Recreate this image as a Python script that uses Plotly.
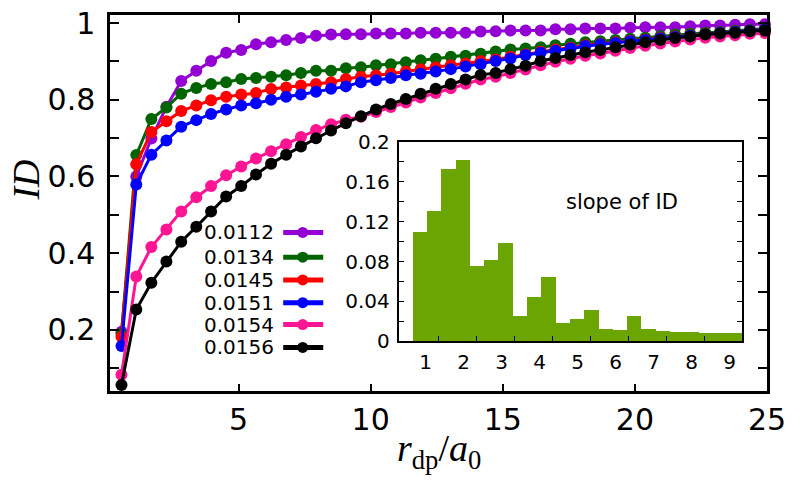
import plotly.graph_objects as go

# ---------------- data ----------------
r_dp = [0.57, 1.13, 1.70, 2.27, 2.83, 3.40, 3.96, 4.53, 5.10, 5.66, 6.23, 6.80, 7.36, 7.93,
        8.50, 9.06, 9.63, 10.20, 10.76, 11.33, 11.89, 12.46, 13.03, 13.59, 14.16, 14.73,
        15.29, 15.86, 16.43, 16.99, 17.56, 18.12, 18.69, 19.26, 19.82, 20.39, 20.96, 21.52,
        22.09, 22.66, 23.22, 23.79, 24.35, 24.92]

series_names = ["0.0112", "0.0134", "0.0145", "0.0151", "0.0154", "0.0156"]
series_colors = ["#9400D3", "#006400", "#FF0000", "#0000FF", "#FF1493", "#000000"]

id_0112 = [0.195, 0.600, 0.699, 0.782, 0.849, 0.876, 0.901, 0.923, 0.930, 0.945, 0.950, 0.956,
           0.961, 0.967, 0.970, 0.971, 0.971, 0.973, 0.973, 0.973, 0.975, 0.975, 0.975, 0.975,
           0.978, 0.979, 0.981, 0.981, 0.981, 0.984, 0.984, 0.986, 0.986, 0.986, 0.988, 0.989,
           0.989, 0.989, 0.992, 0.994, 0.994, 0.996, 0.997, 0.997]
id_0134 = [0.190, 0.656, 0.750, 0.780, 0.816, 0.831, 0.841, 0.846, 0.854, 0.857, 0.860, 0.864,
           0.870, 0.876, 0.876, 0.882, 0.885, 0.890, 0.893, 0.898, 0.903, 0.907, 0.912, 0.915,
           0.920, 0.926, 0.931, 0.934, 0.937, 0.942, 0.946, 0.950, 0.953, 0.956, 0.959, 0.962,
           0.966, 0.970, 0.972, 0.975, 0.977, 0.980, 0.982, 0.986]
id_0145 = [0.182, 0.632, 0.716, 0.744, 0.771, 0.785, 0.799, 0.808, 0.814, 0.818, 0.828, 0.832,
           0.837, 0.841, 0.846, 0.854, 0.860, 0.864, 0.868, 0.874, 0.880, 0.885, 0.890, 0.895,
           0.901, 0.905, 0.912, 0.919, 0.925, 0.931, 0.936, 0.942, 0.946, 0.950, 0.954, 0.957,
           0.961, 0.965, 0.968, 0.971, 0.974, 0.977, 0.980, 0.983]
id_0151 = [0.158, 0.579, 0.657, 0.694, 0.730, 0.747, 0.763, 0.775, 0.785, 0.791, 0.800, 0.808,
           0.814, 0.821, 0.829, 0.835, 0.846, 0.851, 0.857, 0.864, 0.868, 0.874, 0.880, 0.887,
           0.893, 0.901, 0.908, 0.917, 0.923, 0.928, 0.934, 0.940, 0.945, 0.948, 0.953, 0.956,
           0.960, 0.964, 0.967, 0.970, 0.974, 0.977, 0.980, 0.983]
id_0154 = [0.083, 0.339, 0.416, 0.462, 0.509, 0.546, 0.575, 0.603, 0.626, 0.647, 0.666, 0.684,
           0.703, 0.721, 0.736, 0.748, 0.756, 0.768, 0.781, 0.793, 0.806, 0.818, 0.830, 0.842,
           0.853, 0.860, 0.870, 0.879, 0.890, 0.899, 0.907, 0.915, 0.921, 0.928, 0.935, 0.941,
           0.947, 0.952, 0.957, 0.962, 0.965, 0.968, 0.972, 0.974]
id_0156 = [0.056, 0.253, 0.323, 0.378, 0.430, 0.469, 0.509, 0.548, 0.575, 0.605, 0.633, 0.657,
           0.678, 0.700, 0.720, 0.739, 0.757, 0.775, 0.789, 0.802, 0.816, 0.829, 0.841, 0.853,
           0.865, 0.870, 0.880, 0.889, 0.901, 0.909, 0.917, 0.924, 0.930, 0.937, 0.944, 0.950,
           0.956, 0.961, 0.965, 0.970, 0.973, 0.975, 0.979, 0.981]
series_values = [id_0112, id_0134, id_0145, id_0151, id_0154, id_0156]

main_yticks = [0.1, 0.2, 0.3, 0.4, 0.5, 0.6, 0.7, 0.8, 0.9, 1.0]
main_yticklabels = ["", "0.2", "", "0.4", "", "0.6", "", "0.8", "", "1"]
main_xticks = [5, 10, 15, 20, 25]

# inset histogram: slope of ID
slope_x = [0.837, 1.214, 1.590, 1.967, 2.343, 2.720, 3.097, 3.473, 3.850, 4.226, 4.603, 4.980,
           5.356, 5.733, 6.109, 6.486, 6.863, 7.239, 7.616, 7.992, 8.369, 8.746, 9.122]
slope_y = [0.110, 0.131, 0.173, 0.182, 0.076, 0.082, 0.099, 0.026, 0.045, 0.065, 0.019, 0.023,
           0.032, 0.013, 0.012, 0.026, 0.013, 0.011, 0.010, 0.010, 0.009, 0.009, 0.009]
inset_xticks = [1, 2, 3, 4, 5, 6, 7, 8, 9]
inset_xminor = [1.345, 2.345, 3.345, 4.345, 5.345, 6.345, 7.345, 8.345]
inset_yticks = [0, 0.02, 0.04, 0.06, 0.08, 0.10, 0.12, 0.14, 0.16, 0.18, 0.20]
inset_yticklabels = ["0", "", "0.04", "", "0.08", "", "0.12", "", "0.16", "", "0.2"]

# ---------------- figure ----------------
W, H = 810, 481
fig = go.Figure()

for name, col, vals in zip(series_names, series_colors, series_values):
    fig.add_trace(go.Scatter(
        x=r_dp, y=vals, mode="lines+markers", name=name,
        line=dict(color=col, width=3),
        marker=dict(color=col, size=12, line=dict(width=0)),
        cliponaxis=False, showlegend=False, xaxis="x", yaxis="y"))

fig.add_trace(go.Bar(
    x=slope_x, y=slope_y, width=0.3766, marker=dict(color="#6BA502", line=dict(width=0)),
    showlegend=False, xaxis="x2", yaxis="y2"))

tickfont_main = dict(family="DejaVu Sans", size=30, color="black")
tickfont_inset = dict(family="DejaVu Sans", size=20, color="black")

fig.update_layout(
    width=W, height=H, margin=dict(l=0, r=0, t=0, b=0),
    paper_bgcolor="white", plot_bgcolor="white",
    xaxis=dict(domain=[112.7 / W, 785.5 / W], range=[0.137, 25.0],
               tickvals=main_xticks, ticks="inside", ticklen=8, tickwidth=1.5,
               tickcolor="black", showline=True, linecolor="black", linewidth=2.5,
               mirror="ticks", showgrid=False, zeroline=False, tickfont=tickfont_main,
               ticklabelstandoff=0, anchor="y"),
    yaxis=dict(domain=[1 - 399.3 / H, 1 - 3.5 / H], range=[0.0396, 1.0203],
               tickvals=main_yticks, ticktext=main_yticklabels, ticks="inside",
               ticklen=9, tickwidth=1.5, tickcolor="black", showline=True,
               linecolor="black", linewidth=2.5, mirror="ticks", showgrid=False,
               zeroline=False, tickfont=tickfont_main, ticklabelstandoff=6, anchor="x"),
    xaxis2=dict(domain=[408.3 / W, 760 / W], range=[0.290, 9.333], anchor="y2",
                tickvals=inset_xticks, ticks="", showline=True, linecolor="black",
                linewidth=2, mirror=True, showgrid=False, zeroline=False,
                tickfont=tickfont_inset, ticklabelstandoff=2,
                minor=dict(tickvals=inset_xminor, ticks="inside", ticklen=5,
                           tickwidth=1.2, tickcolor="black", showgrid=False)),
    yaxis2=dict(domain=[1 - 346.7 / H, 1 - 136.7 / H], range=[0, 0.2], anchor="x2",
                tickvals=inset_yticks, ticktext=inset_yticklabels, ticks="inside",
                ticklen=5, tickwidth=1.2, tickcolor="black", showline=True,
                linecolor="black", linewidth=2, mirror="ticks", showgrid=False,
                zeroline=False, tickfont=tickfont_inset, ticklabelstandoff=3),
    bargap=0,
)

annotations = [
    dict(text="<i>r</i><sub>dp</sub>/<i>a</i><sub>0</sub>", x=450 / W, y=1 - 462 / H,
         xref="paper", yref="paper", showarrow=False, xanchor="center", yanchor="middle",
         font=dict(family="Liberation Serif", size=38, color="black")),
    dict(text="<i>ID</i>", x=27 / W, y=1 - 177 / H, xref="paper", yref="paper",
         showarrow=False, textangle=-90, xanchor="center", yanchor="middle",
         font=dict(family="Liberation Serif", size=38, color="black")),
    dict(text="slope of ID", x=636.7 / W, y=1 - 200 / H, xref="paper", yref="paper",
         showarrow=False, xanchor="center", yanchor="middle",
         font=dict(family="DejaVu Sans", size=21, color="black")),
]

# key (label text left of sample, gnuplot style)
key_rows = [232, 258, 282, 306, 329, 353]
shapes = []
for name, col, py in zip(series_names, series_colors, key_rows):
    yp = 1 - py / H
    annotations.append(dict(text=name, x=283 / W, y=yp, xref="paper", yref="paper",
                            showarrow=False, xanchor="right", yanchor="middle",
                            font=dict(family="DejaVu Sans", size=20, color="black")))
    shapes.append(dict(type="line", xref="paper", yref="paper", x0=290 / W, x1=331 / W,
                       y0=yp, y1=yp, line=dict(color=col, width=5)))
    shapes.append(dict(type="circle", xref="paper", yref="paper", xsizemode="pixel",
                       ysizemode="pixel", xanchor=310 / W, yanchor=yp,
                       x0=-5.5, x1=5.5, y0=-5.5, y1=5.5,
                       fillcolor=col, line=dict(color=col, width=0)))

fig.update_layout(annotations=annotations, shapes=shapes)
fig.write_html("out.html")
